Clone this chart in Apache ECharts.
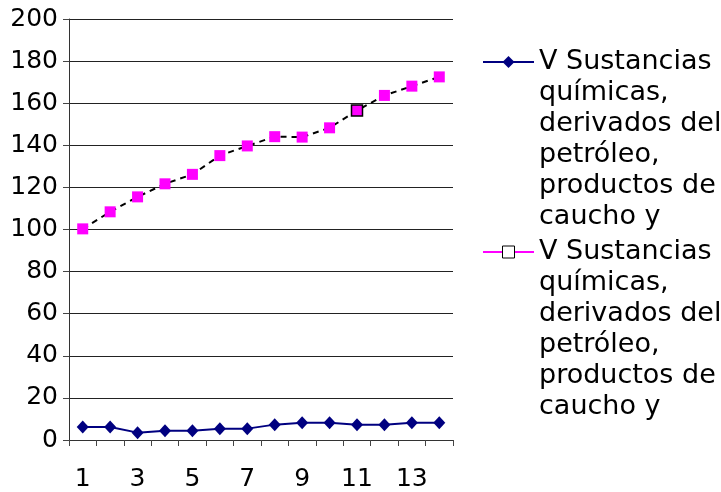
<!DOCTYPE html>
<html>
<head>
<meta charset="utf-8">
<script src="https://cdn.jsdelivr.net/npm/echarts@6/dist/echarts.min.js"></script>
<style>html,body{margin:0;padding:0;background:#fff;}#c{width:721px;height:492px;}</style>
</head>
<body>
<div id="c"></div>
<script>
const categories = ['1','2','3','4','5','6','7','8','9','10','11','12','13','14'];
const seriesNames = [
  'V Sustancias químicas, derivados del petróleo, productos de caucho y (1)',
  'V Sustancias químicas, derivados del petróleo, productos de caucho y (2)'
];
const legendLines = ['V Sustancias', 'químicas,', 'derivados del', 'petróleo,', 'productos de', 'caucho y'];
const values1 = [6.2, 6.2, 3.5, 4.4, 4.4, 5.4, 5.4, 7.3, 8.2, 8.2, 7.3, 7.3, 8.2, 8.2];
const values2 = [100.3, 108.4, 115.5, 121.7, 126.2, 135.1, 139.7, 144.1, 143.9, 148.3, 156.5, 163.7, 168.1, 172.5];
const highlightIndex = 10;

const FONT = 'DejaVu Sans';
const LH = 31;
const SPACER = LH * (legendLines.length - 1);
const chart = echarts.init(document.getElementById('c'), null, {renderer: 'canvas'});

function legendCfg(iconY, dataItem) {
  return {
    orient: 'vertical',
    left: 482,
    top: iconY - (SPACER + LH * legendLines.length) / 2,
    itemWidth: 51,
    itemHeight: 15,
    padding: 0,
    selectedMode: false,
    formatter: () => '{sp| }\n' + legendLines.map(l => '{t|' + l + '}').join('\n'),
    textStyle: {
      fontFamily: FONT, fontSize: 27, color: '#000', lineHeight: LH,
      rich: {
        sp: {height: SPACER, lineHeight: SPACER, fontSize: 1},
        t: {fontFamily: FONT, fontSize: 27, lineHeight: LH, color: '#000'}
      }
    },
    data: [dataItem]
  };
}

chart.setOption({
  animation: false,
  backgroundColor: '#fff',
  grid: {left: 69, right: 268, top: 19, bottom: 52, containLabel: false},
  legend: [
    legendCfg(62, {name: seriesNames[0]}),
    legendCfg(252, {
      name: seriesNames[1],
      itemStyle: {color: '#fff', borderColor: '#000', borderWidth: 1},
      lineStyle: {color: '#FF00FF', type: 'solid', width: 2}
    })
  ],
  xAxis: {
    type: 'category',
    data: categories,
    boundaryGap: true,
    axisLine: {lineStyle: {color: '#333', width: 1}},
    axisTick: {show: true, length: 6, interval: 0, lineStyle: {color: '#444'}},
    axisLabel: {interval: 1, margin: 27, fontFamily: FONT, fontSize: 25, color: '#000'},
    splitLine: {show: false}
  },
  yAxis: {
    type: 'value',
    min: 0, max: 200, interval: 20,
    axisLine: {show: true, lineStyle: {color: '#333', width: 1}},
    axisTick: {show: true, length: 6, lineStyle: {color: '#444'}},
    axisLabel: {margin: 11, fontFamily: FONT, fontSize: 25, color: '#000'},
    splitLine: {show: true, lineStyle: {color: '#222', width: 1}}
  },
  series: [
    {
      name: seriesNames[0],
      type: 'line',
      data: values1,
      symbol: 'diamond',
      symbolSize: [12, 13],
      itemStyle: {color: '#000080'},
      lineStyle: {color: '#000080', width: 2},
      z: 3
    },
    {
      name: seriesNames[1],
      type: 'line',
      data: values2.map((v, i) => i === highlightIndex
        ? {value: v, itemStyle: {color: '#FF00FF', borderColor: '#000', borderWidth: 1.5}}
        : v),
      symbol: 'rect',
      symbolSize: 11,
      itemStyle: {color: '#FF00FF'},
      lineStyle: {color: '#000', width: 2, type: [6, 5]},
      z: 3
    }
  ]
});
</script>
</body>
</html>
